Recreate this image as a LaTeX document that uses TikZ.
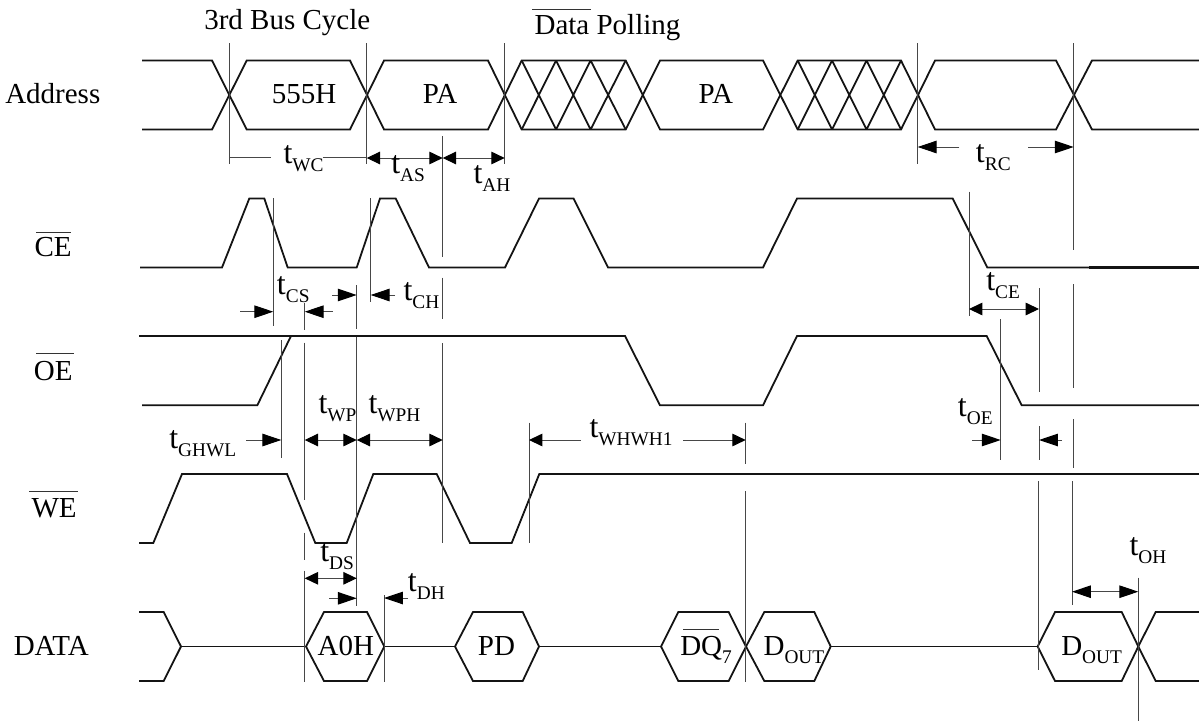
\documentclass[tikz,border=0pt]{standalone}
\usepackage{fontspec}
\setmainfont{Liberation Serif}
\usetikzlibrary{arrows.meta}
\newcommand\subm[1]{\raisebox{-6.2pt}{\fontsize{14.5}{15}\selectfont #1}}
\newcommand\tm[1]{{\fontsize{24}{24}\selectfont t}\subm{#1}}
\tikzset{
  sig/.style={line width=1.35pt,black!92,line join=miter},
  tick/.style={line width=0.75pt,black!72},
  dim/.style={line width=0.75pt,black!72},
  tri/.tip={Triangle[length=10pt,width=9.4pt,black]},
  tril/.tip={Triangle[length=14.2pt,width=9.4pt,black]},
  both/.style={dim,{tri}-{tri}},
  toend/.style={dim,-{tril}},
  toendshort/.style={dim,-{tri}},
  lab/.style={anchor=base west,inner sep=0pt,font=\fontsize{21.75}{24}\selectfont},
  bar/.style={line width=0.75pt,black!80}
}
\begin{document}
\begin{tikzpicture}[x=0.75pt,y=-0.75pt]
\useasboundingbox (0,0) rectangle (1199,721);
% ---------- row labels
\node[lab] (lAddr) at (5,103.3) {Address};
\node[lab] (lCE) at (34.3,256) {CE};
\draw[bar] (36,232.3) -- (71,232.3);
\node[lab] (lOE) at (33.7,380) {OE};
\draw[bar] (36,353.3) -- (74,353.3);
\node[lab] (lWE) at (31.3,517.3) {WE};
\draw[bar] (29,491.7) -- (78,491.7);
\node[lab] (lDATA) at (13.5,655.7) {DATA};
% ---------- headings
\node[lab] (h1) at (204,29.3) {3rd Bus Cycle};
\node[lab] (h2) at (534.3,34.3) {Data Polling};
\draw[bar] (532,9) -- (591,9);
% ---------- Address bus
\draw[sig] (142,60.5) -- (212,60.5) -- (246.7,129.5) -- (350,129.5) -- (384,60.5) -- (488,60.5) -- (521.7,129.5) -- (625.7,129.5) -- (660,60.5) -- (763,60.5) -- (797.7,129.5) -- (901,129.5) -- (935,60.5) -- (1056,60.5) -- (1092,129.5) -- (1199,129.5);
\draw[sig] (142,129.5) -- (212,129.5) -- (246.7,60.5) -- (350,60.5) -- (384,129.5) -- (488,129.5) -- (521.7,60.5) -- (625.7,60.5) -- (660,129.5) -- (763,129.5) -- (797.7,60.5) -- (901,60.5) -- (935,129.5) -- (1056,129.5) -- (1092,60.5) -- (1199,60.5);
% hatching
\draw[sig] (521.7,60.5) -- (556,129.5) (556,60.5) -- (590.6,129.5) (590.6,60.5) -- (625.7,129.5)
           (521.7,129.5) -- (556,60.5) (556,129.5) -- (590.6,60.5) (590.6,129.5) -- (625.7,60.5);
\draw[sig] (797.7,60.5) -- (832,129.5) (832,60.5) -- (866.5,129.5) (866.5,60.5) -- (901,129.5)
           (797.7,129.5) -- (832,60.5) (832,129.5) -- (866.5,60.5) (866.5,129.5) -- (901,60.5);
\node[lab] (a555) at (271.7,103.3) {555H};
\node[lab] (apa1) at (422.7,103.3) {PA};
\node[lab] (apa2) at (698.3,103.3) {PA};
% ---------- CE
\draw[sig] (140,267.5) -- (222,267.5) -- (249.3,198.5) -- (264.3,198.5) -- (287.7,267.5) -- (356.7,267.5) -- (380,198.5) -- (395.7,198.5) -- (429,267.5) -- (505,267.5) -- (539,198.5) -- (573.5,198.5) -- (608,267.5) -- (763,267.5) -- (797,198.5) -- (952.7,198.5) -- (987.3,267.5) -- (1199,267.5);
\draw[line width=1.7pt,black!92] (1089,267.5) -- (1199,267.5);
% ---------- OE
\draw[sig] (139,336) -- (625,336) -- (660,405.3) -- (763,405.3) -- (797,336) -- (986.7,336) -- (1021.7,405.3) -- (1199,405.3);
\draw[sig] (142,405.3) -- (257.3,405.3) -- (291,336);
% ---------- WE
\draw[sig] (139,543) -- (153.3,543) -- (182,474) -- (287,474) -- (315.3,543) -- (346.7,543) -- (373.3,474) -- (436.7,474) -- (470,543) -- (511.7,543) -- (539.3,474) -- (1199,474);
% ---------- DATA
\draw[sig] (139,612) -- (163.7,612) -- (181,646.5) -- (163.7,681) -- (139,681);
\draw[sig] (181,646.5) -- (306,646.5) (384.3,646.5) -- (455,646.5) (539,646.5) -- (661,646.5) (830.7,646.5) -- (1037.7,646.5);
\draw[sig] (306,646.5) -- (324,612) -- (367,612) -- (384.3,646.5) -- (367,681) -- (324,681) -- cycle;
\draw[sig] (455,646.5) -- (473,612) -- (522.7,612) -- (539,646.5) -- (522.7,681) -- (473,681) -- cycle;
\draw[sig] (661,646.5) -- (678.3,612) -- (728.7,612) -- (746,646.5) -- (728.7,681) -- (678.3,681) -- cycle;
\draw[sig] (746,646.5) -- (764.3,612) -- (814.3,612) -- (830.7,646.5) -- (814.3,681) -- (764.3,681) -- cycle;
\draw[sig] (1037.7,646.5) -- (1055,612) -- (1121.7,612) -- (1138.3,646.5) -- (1121.7,681) -- (1055,681) -- cycle;
\draw[sig] (1138.3,646.5) -- (1155.7,612) -- (1199,612) (1138.3,646.5) -- (1155.7,681) -- (1199,681);
\node[lab] (dA0) at (317.3,655.7) {A0H};
\node[lab] (dPD) at (477.7,655.7) {PD};
\node[lab] (dDQ) at (680,655.7) {DQ\subm{7}};
\draw[bar] (683,629.3) -- (718.6,629.3);
\node[lab] (dO1) at (763.3,655.7) {D\subm{OUT}};
\node[lab] (dO2) at (1061,655.7) {D\subm{OUT}};
% ---------- vertical ticks
\draw[tick] (229,43) -- (229,164);
\draw[tick] (366.7,43) -- (366.7,164);
\draw[tick] (504.7,43) -- (504.7,164);
\draw[tick] (917.7,43) -- (917.7,164);
\draw[tick] (1073.7,43) -- (1073.7,250);
\draw[tick] (442.7,136) -- (442.7,256.7) (442.7,277.7) -- (442.7,319) (442.7,343) -- (442.7,543);
\draw[tick] (969,191.7) -- (969,315.7);
\draw[tick] (1073,284.3) -- (1073,388) (1073,419) -- (1073,467.7) (1072,481) -- (1072,605);
\draw[tick] (1039,288) -- (1039,391.7) (1039,426) -- (1039,460.3) (1038,481) -- (1038,670);
\draw[tick] (1000.7,319) -- (1000.7,460);
\draw[tick] (1138.3,577.7) -- (1138.3,720.7);
\draw[tick] (273.3,198) -- (273.3,325.7);
\draw[tick] (304.7,303) -- (304.7,330) (304.7,342.7) -- (304.7,500) (304.7,532.7) -- (304.7,560) (304.7,570.7) -- (304.7,681.7);
\draw[tick] (356.7,285) -- (356.7,329.3) (356.7,336.7) -- (356.7,606);
\draw[tick] (370.7,198) -- (370.7,302.3);
\draw[tick] (281.3,340) -- (281.3,458.3);
\draw[tick] (529,422.7) -- (529,543.3);
\draw[tick] (745.7,422.7) -- (745.7,464) (745.7,491) -- (745.7,681.7);
\draw[tick] (384,595) -- (384,681.7);
% ---------- dimensions
\draw[dim] (229,157) -- (271,157) (322.7,157) -- (366.7,157);
\node[lab] (tWC) at (283.3,163) {\tm{WC}};
\draw[both] (366.7,158) -- (442.7,158);
\node[lab] (tAS) at (391,173) {\tm{AS}};
\draw[both] (442.7,158) -- (504.7,158);
\node[lab] (tAH) at (473.3,183) {\tm{AH}};
\draw[toend] (959.3,147) -- (917.7,147);
\draw[toend] (1028,147) -- (1073.7,147);
\node[lab] (tRC) at (975.7,162.3) {\tm{RC}};
\draw[toend] (240,311.7) -- (273.3,311.7);
\draw[toend] (332.7,311.7) -- (304.7,311.7);
\node[lab] (tCS) at (276.7,294.3) {\tm{CS}};
\draw[toend] (332,295) -- (356.7,295);
\draw[toend] (395,295) -- (370.7,295);
\node[lab] (tCH) at (403.3,300) {\tm{CH}};
\draw[both] (969,309) -- (1039,309);
\node[lab] (tCE) at (986,290) {\tm{CE}};
\draw[toend] (972.3,440) -- (1000.7,440);
\draw[toend] (1062,440) -- (1039,440);
\node[lab] (tOE) at (957.7,416.7) {\tm{OE}};
\draw[toend] (246,440) -- (281.3,440);
\node[lab] (tGHWL) at (169,448) {\tm{GHWL}};
\draw[both] (304.7,440) -- (356.7,440);
\node[lab] (tWP) at (318.3,413.3) {\tm{WP}};
\draw[both] (356.7,440) -- (442.7,440);
\node[lab] (tWPH) at (368.3,413.3) {\tm{WPH}};
\draw[toendshort] (580.7,440) -- (529,440);
\draw[toendshort] (683.3,440) -- (745.7,440);
\node[lab] (tWHWH) at (589.3,437.3) {\tm{WHWH1}};
\draw[both] (304.7,578.3) -- (356.7,578.3);
\node[lab] (tDS) at (320,561.7) {\tm{DS}};
\draw[toend] (329,598.3) -- (356.7,598.3);
\draw[toend] (408,598) -- (384,598);
\node[lab] (tDH) at (407.7,591.7) {\tm{DH}};
\draw[dim,{tril}-{tril}] (1072,591.7) -- (1138.3,591.7);
\node[lab] (tOH) at (1129.3,555) {\tm{OH}};
\end{tikzpicture}
\end{document}
